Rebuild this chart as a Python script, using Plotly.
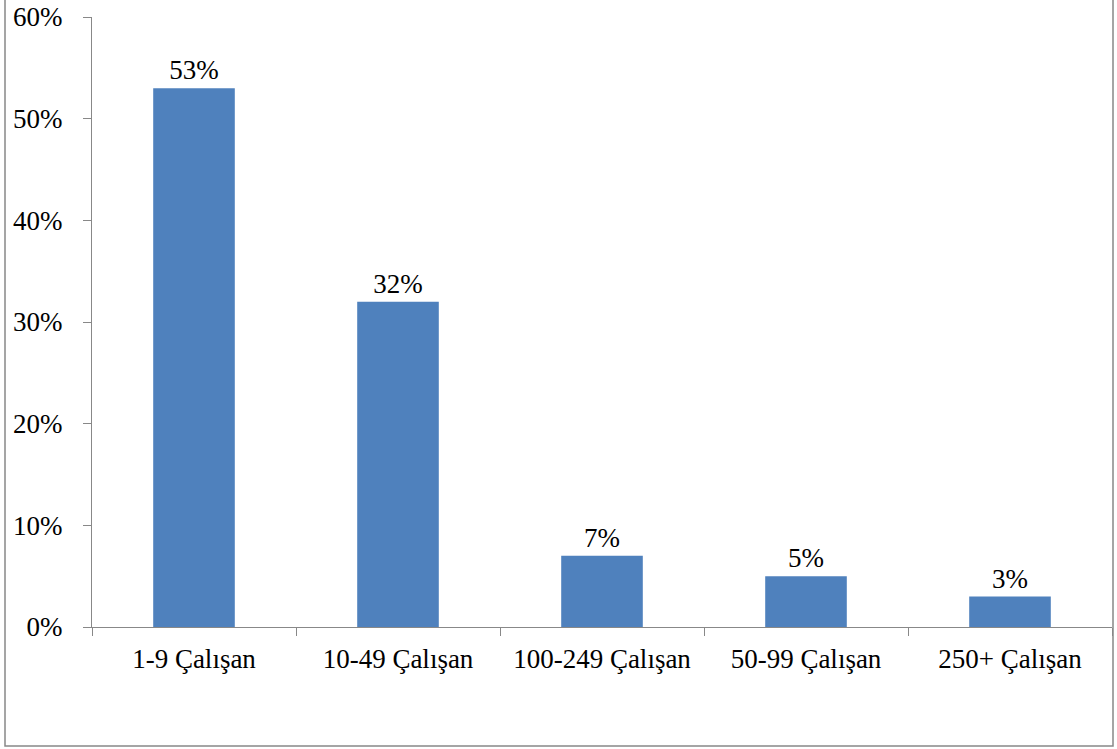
import plotly.graph_objects as go

categories = ["1-9 Çalışan", "10-49 Çalışan", "100-249 Çalışan", "50-99 Çalışan", "250+ Çalışan"]
values = [0.53, 0.32, 0.07, 0.05, 0.03]
labels = ["53%", "32%", "7%", "5%", "3%"]

FONT = "Liberation Serif"
FS = 27

fig = go.Figure(go.Bar(
    x=categories, y=values, width=0.4,
    marker=dict(color="#4F81BD", line=dict(width=0)),
    text=labels, textposition="outside", cliponaxis=False,
    textfont=dict(family=FONT, size=FS, color="black"),
))

fig.update_layout(
    width=1117, height=749,
    margin=dict(l=92, r=5, t=17, b=122, autoexpand=False),
    paper_bgcolor="white", plot_bgcolor="white",
    font=dict(family=FONT, size=FS, color="black"),
    showlegend=False,
    bargap=0.6,
    uniformtext=dict(minsize=FS, mode="show"),
    xaxis=dict(showgrid=False, showline=True, linecolor="#888888", linewidth=1,
               ticks="outside", tickson="boundaries", ticklen=8, tickcolor="#888888",
               ticklabelstandoff=8, zeroline=False, automargin=False,
               tickfont=dict(family=FONT, size=FS, color="black")),
    yaxis=dict(range=[0, 0.6], dtick=0.1, tickformat=".0%", showgrid=False,
               showline=True, linecolor="#888888", linewidth=1,
               ticks="outside", ticklen=8, tickcolor="#888888",
               ticklabelstandoff=15, zeroline=False, automargin=False,
               tickfont=dict(family=FONT, size=FS, color="black")),
    shapes=[dict(type="rect", xref="paper", yref="paper",
                 x0=(5 - 92) / 1020, x1=(1113 - 92) / 1020,
                 y0=(627 - 746) / 610, y1=(627 + 10) / 610,
                 line=dict(color="#888888", width=1.5), layer="below")],
)

fig.write_html("out.html")
